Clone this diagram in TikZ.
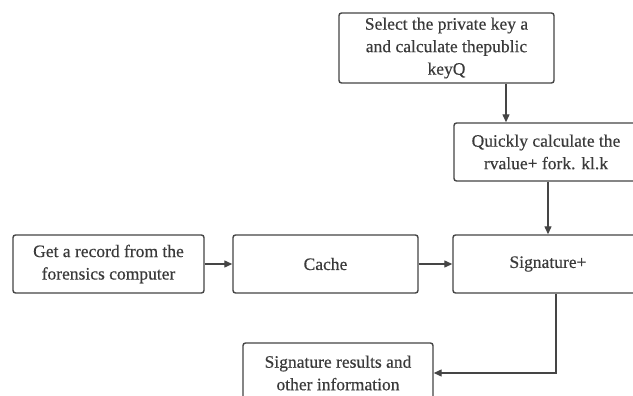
\documentclass[tikz,border=0pt]{standalone}
\usepackage{fontspec}
\setmainfont[FakeBold=0.4]{Liberation Serif}
\usetikzlibrary{arrows.meta}
\definecolor{ln}{HTML}{454545}
\definecolor{tx}{HTML}{3A3A3A}
\begin{document}
\begin{tikzpicture}[x=1pt,y=-1pt,
  box/.style={draw=ln,line width=1.4pt,rounded corners=2.5pt,align=center,
    text=tx,font=\fontsize{17.5}{22.5}\selectfont,inner sep=0pt,anchor=center},
  arr/.style={draw=ln,line width=1.3pt,-{Triangle[length=8pt,width=7pt]}}]
\useasboundingbox (0,0) rectangle (633,396);
\clip (0,0) rectangle (633,396);
\fill[white] (0,0) rectangle (633,396);
\node[box,minimum width=215pt,minimum height=70pt] (top) at (446.5,48)
  {Select the private key a\\and calculate thepublic\\keyQ};
\node[box,minimum width=184pt,minimum height=58pt] (quick) at (546,152)
  {Quickly calculate the\\rvalue+ fork. kl.k};
\node[box,minimum width=191pt,minimum height=58pt] (get) at (108.5,264)
  {Get a record from the\\forensics computer};
\node[box,minimum width=185pt,minimum height=58pt] (cache) at (325.5,264)
  {Cache};
\node[box,minimum width=190pt,minimum height=58pt] (sig) at (548,264)
  {Signature+};
\node[box,minimum width=190pt,minimum height=60pt] (res) at (338,373)
  {Signature results and\\other information};
\draw[arr] ([xshift=59.5pt]top.south) -- ([xshift=59.5pt]top.south |- quick.north);
\draw[arr] ([xshift=2pt]quick.south) -- ([xshift=2pt]quick.south |- sig.north);
\draw[arr] (get.east) -- (cache.west);
\draw[arr] (cache.east) -- (sig.west);
\draw[arr] ([xshift=8pt]sig.south) |- (res.east);
\end{tikzpicture}
\end{document}
